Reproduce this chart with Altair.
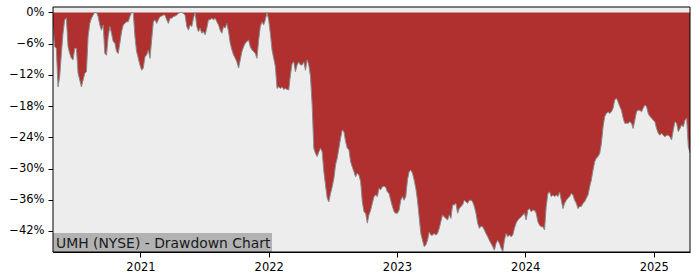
import altair as alt
import pandas as pd

title_text = "UMH (NYSE) - Drawdown Chart"
start_date = "2020-04-27"
end_date = "2025-04-14"

seg_2020_2022 = [
    -2.7, -6.6, -6.9, -14.3, -12.3, -7.9, -4.0, -1.4, -1.1, -6.6,
    -7.9, -8.8, -9.1, -6.9, -6.9, -11.7, -13.0, -14.3, -13.0, -11.7,
    -11.4, -4.6, -2.1, -1.1, -0.5, 0, 0, -0.8, -2.4, -3.4,
    -2.4, -7.9, -8.2, -4.6, -2.7, -4.0, -5.6, -5.9, -7.5, -7.9,
    -5.9, -3.7, -2.4, -2.1, -1.8, -1.8, -0.8, 0, 0, -4.6,
    -7.5, -8.8, -10.1, -11.1, -10.7, -8.5, -8.2, -7.2, -8.8, -5.3,
    -1.8, -1.4, -2.1, -1.4, -0.8, -0.7, -0.5, -0.5, -1.4, -2.1,
    -1.1, -1.1, -0.8, -0.7, -0.5, -0.2, 0, 0, -0.2, -0.5,
    -2.7, -3.4, -2.4, -2.7, -1.1, 0, -2.7, -3.7, -3.0, -4.0,
    -3.7, -4.3, -3.0, -1.4, -1.4, -1.1, -1.4, -1.1, -1.8, -2.4,
    -3.4, -4.0, -2.7, -3.0, -2.1, -3.7, -5.9, -7.2, -8.2, -8.8,
    -9.5, -10.7, -9.1, -7.5, -6.6, -5.9, -5.6, -5.3, -6.6, -7.2,
    -7.5, -7.9, -8.8, -5.3, -2.7, -1.8, -2.4, -1.4, 0, -1.4,
    -4.0, -7.2, -8.8, -10.4, -14.6, -14.3, -14.6, -14.3, -14.8, -14.6,
    -14.8, -14.9, -12.0, -9.8, -9.5, -11.4, -10.1, -9.5, -10.1, -10.1,
    -9.5, -11.1, -9.1, -10.1, -12.3,
]
seg_2022_2023 = [
    -17.8, -26.1, -27.1, -27.7, -26.8, -26.1, -26.8, -30.6, -33.2, -35.7,
    -36.4, -34.8, -33.5, -31.9, -29.3, -28.0, -26.1, -24.2, -22.6, -22.9,
    -24.8, -26.1, -26.4, -28.7, -29.7, -30.6, -31.6, -30.9, -31.3, -32.5,
    -36.4, -38.3,
    -38.6, -40.5, -38.9, -38.0, -36.7, -35.4, -35.1, -35.4, -33.8, -34.1,
    -33.5, -33.4, -33.6, -34.5, -34.8, -36.1, -37.3, -38.3, -38.6, -38.6,
    -38.0, -36.1, -35.4, -36.1, -35.4, -32.2, -30.6, -30.3, -30.9, -32.2,
    -33.8, -36.1, -39.3, -42.5, -43.8, -45.0, -44.7, -43.8, -42.2, -42.8,
    -42.8, -42.5, -42.8, -42.5, -41.5, -40.2, -38.9, -39.3, -39.6, -39.9,
    -38.9, -39.6, -37.0, -37.0, -36.7, -38.6, -37.7, -37.3, -37.0, -36.1,
    -36.4, -36.7, -36.1,
]
seg_2023_2024 = [
    -36.1, -36.4, -37.3, -38.6, -40.5, -41.5, -41.1, -41.2, -41.8, -42.5,
    -43.1, -43.8, -44.4, -45.0, -45.7, -44.4, -43.8, -44.4, -45.3, -46.0,
    -43.8, -42.5, -43.1, -42.8, -43.1, -42.8, -41.5, -40.5, -39.9, -39.6,
    -39.3, -38.9, -38.6, -39.9, -38.0, -37.7, -38.3, -38.0, -38.0, -38.6,
    -40.2, -40.9, -41.2, -41.2, -41.8, -37.3, -34.8, -34.5, -35.4, -35.1,
    -35.4, -35.1, -35.4, -34.5, -36.1, -37.7, -36.7, -36.1, -35.7, -35.4,
    -34.8, -35.1, -36.1, -36.7, -37.7, -37.3,
]
seg_2024_2025 = [
    -37.3, -36.7, -36.4, -35.7, -35.1, -33.5, -32.2, -30.3, -28.7, -28.0,
    -27.7, -27.1, -25.2, -22.0, -20.0, -19.4, -19.1, -19.4, -19.1, -18.4,
    -16.8, -16.5, -17.2, -18.1, -18.8, -20.3, -21.3, -21.3, -21.3, -21.0,
    -21.3, -22.3, -20.7, -19.1, -18.8, -18.8, -19.1, -18.4, -17.8, -18.1,
    -19.4, -20.0, -20.3, -20.7, -21.0, -22.3, -23.2, -23.6, -23.2, -23.6,
    -23.9, -23.6, -23.6, -23.9, -24.5, -22.6, -21.0, -21.3, -22.9, -22.3,
    -21.6, -22.0, -20.7, -20.3, -25.8, -27.0,
]

drawdown = seg_2020_2022 + seg_2022_2023 + seg_2023_2024 + seg_2024_2025
dates = pd.date_range(start_date, end_date, periods=len(drawdown))
df = pd.DataFrame({"date": dates, "dd": drawdown, "zero": 0.0})

year_ticks = [alt.DateTime(year=y, month=1, date=1) for y in [2021, 2022, 2023, 2024, 2025]]
y_ticks = [0, -6, -12, -18, -24, -30, -36, -42]

axis_style = dict(
    grid=False,
    domainColor="black",
    domainWidth=1,
    tickColor="black",
    tickSize=5,
    tickWidth=1,
    labelFont="DejaVu Sans",
    labelFontSize=11.5,
    labelColor="black",
    labelPadding=4,
    labelOverlap=False,
    labelFlush=False,
)

x_enc = alt.X(
    "date:T",
    title=None,
    scale=alt.Scale(nice=False, padding=0),
    axis=alt.Axis(values=year_ticks, format="%Y", labelAngle=0, **axis_style),
)
y_enc = alt.Y(
    "dd:Q",
    title=None,
    scale=alt.Scale(domain=[-46.05, 1.05], nice=False, zero=False),
    axis=alt.Axis(
        values=y_ticks,
        labelExpr="datum.value == 0 ? '0%' : '\u2212' + abs(datum.value) + '%'",
        **axis_style,
    ),
)

base = alt.Chart(df)
lab_df = pd.DataFrame({"t": [title_text]})

bg = alt.Chart(lab_df).mark_rect(color="#ededed").encode(
    x=alt.value(0), x2=alt.value(637), y=alt.value(0), y2=alt.value(245)
)
area = base.mark_area(color="#b03030", opacity=1, clip=True).encode(
    x=x_enc, y=y_enc, y2="zero:Q"
)
edge = base.mark_line(color="#8a8a8a", strokeWidth=1, clip=True).encode(
    x=x_enc, y=y_enc
)
box = alt.Chart(lab_df).mark_rect(color="#b2b2b2").encode(
    x=alt.value(0), x2=alt.value(219), y=alt.value(226), y2=alt.value(245)
)
label = alt.Chart(lab_df).mark_text(
    align="left", baseline="alphabetic", font="DejaVu Sans", fontSize=13.9, color="#1a1a1a"
).encode(text="t:N", x=alt.value(3), y=alt.value(240.5))
frame = alt.Chart(lab_df).mark_rect(fill=None, stroke="black", strokeWidth=1).encode(
    x=alt.value(0), x2=alt.value(637), y=alt.value(0), y2=alt.value(245)
)

chart = (
    alt.layer(bg, area, edge, box, label, frame)
    .properties(
        width=637,
        height=245,
        autosize="none",
        background="white",
        padding={"left": 53, "top": 7, "right": 10, "bottom": 28},
    )
    .configure_view(stroke=None)
)

chart.save("out.html", embed_options={"renderer": "svg", "actions": False})
